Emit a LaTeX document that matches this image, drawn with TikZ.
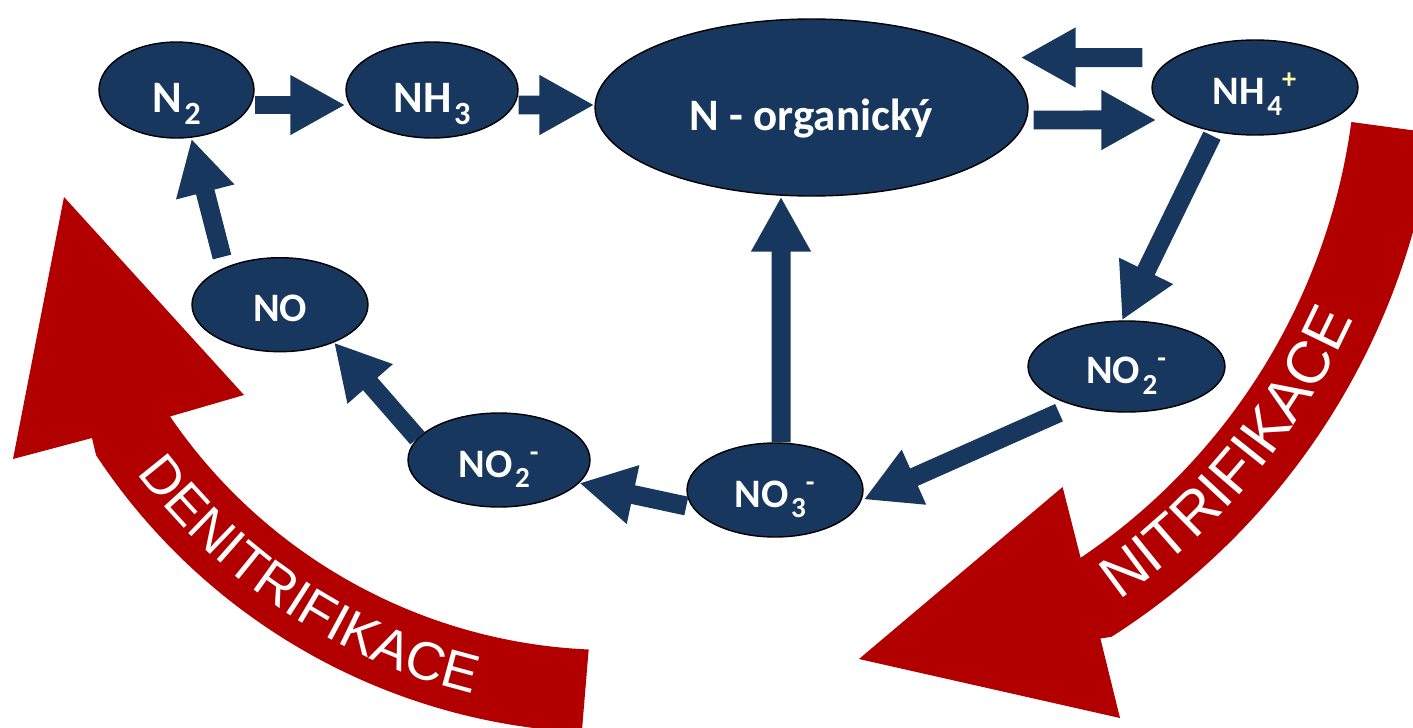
\documentclass[tikz,border=0pt]{standalone}
\usepackage{fontspec}
\setmainfont{Carlito}
\newfontfamily\arialfont{Liberation Sans}
\usetikzlibrary{arrows.meta}
\usetikzlibrary{shapes.geometric}
\usetikzlibrary{decorations.text}
\definecolor{navy}{RGB}{23,55,94}
\definecolor{cyclered}{RGB}{178,0,0}
\definecolor{plusyellow}{RGB}{255,255,170}
\newcommand{\bigfont}{\bfseries\fontsize{25.6}{30}\selectfont}
\newcommand{\smallfont}{\bfseries\fontsize{23}{27}\selectfont}
\newcommand{\denitfont}{\arialfont\fontsize{30.7}{36}\selectfont}
\newcommand{\nitfont}{\arialfont\fontsize{33.9}{40}\selectfont}
\newcommand{\chemsub}[1]{\kern0.06em\raisebox{-0.27em}{\scalebox{0.72}{#1}}}

\begin{document}
\begin{tikzpicture}[>={Triangle[length=1.1cm,width=1.12cm]},x=0.02cm,y=-0.02cm,
    bub/.style={ellipse,draw=black,line width=0.8pt,fill=navy,text=white,inner sep=0pt,text depth=0pt},
    bigbub/.style={bub,font=\bigfont,text height=0.9cm},
    smallbub/.style={bub,font=\smallfont,text height=0.68cm},
    flow/.style={->,draw=navy,line width=0.38cm}]
      \useasboundingbox (0,0) rectangle (1413,727);
      \clip (0,0) rectangle (1413,727);
      % big red arrows
      \fill[cyclered] ([shift={(92.5:535)}]612,115) arc[start angle=92.5,end angle=145.7,radius=535] -- (244,395) -- (64,197) -- (13,459) -- (92,438) -- ([shift={(146.6:618)}]612,115) arc[start angle=146.6,end angle=92.8,radius=618] -- cycle;
      \fill[cyclered] ([shift={(7.7:627)}]730,38) arc[start angle=7.7,end angle=56,radius=627] -- (1062.6,487) -- (859,659) -- (1120,718) -- (1100.4,638.5) -- ([shift={(57.5:710)}]730,38) arc[start angle=57.5,end angle=7.7,radius=710] -- cycle;
      \path[decorate,decoration={text along path,text={|\denitfont|DENITRIFIKACE},text color=white}] ([shift={(143:595)}]612,115) arc[start angle=143,end angle=100,radius=595];
      \path[decorate,decoration={text along path,text={|\nitfont|NITRIFIKACE},text color=white}] ([shift={(55.3:684)}]730,38) arc[start angle=55.3,end angle=18,radius=684];
      % nodes
      \node[bigbub,minimum width=3.1cm,minimum height=1.92cm] (n2) at (176.5,90) {N\chemsub{2}};
      \node[bigbub,minimum width=3.44cm,minimum height=1.92cm] (nh3) at (432,90) {NH\chemsub{3}};
      \node[bigbub,minimum width=8.66cm,minimum height=3.54cm,text height=0.94cm] (norg) at (811.5,107.5) {N - organický};
      \node[smallbub,minimum width=4.12cm,minimum height=1.9cm] (nh4) at (1255,87.5) {NH\chemsub{4}\textsuperscript{\color{plusyellow}+}};
      \node[smallbub,minimum width=3.94cm,minimum height=1.82cm] (no2r) at (1126.5,366.5) {NO\chemsub{2}\textsuperscript{-}};
      \node[smallbub,minimum width=3.52cm,minimum height=1.88cm] (no3) at (775,490) {NO\chemsub{3}\textsuperscript{-}};
      \node[smallbub,minimum width=3.64cm,minimum height=1.88cm] (no2l) at (499,460) {NO\chemsub{2}\textsuperscript{-}};
      \node[smallbub,minimum width=3.52cm,minimum height=1.88cm] (no) at (280,304.7) {NO};
      % blue arrows
      \draw[flow] ([yshift=-0.3cm]n2.east) -- ([yshift=-0.3cm]nh3.west);
      \draw[flow] ([yshift=-0.3cm]nh3.east) -- ([yshift=0.05cm]norg.west);
      \draw[flow] ([xshift=0.1cm,yshift=-0.25cm]norg.east) -- ([xshift=0.1cm,yshift=-0.65cm]nh4.west);
      \draw[flow] ([xshift=-0.18cm,yshift=0.6cm]nh4.west) -- ([xshift=-0.16cm,yshift=1cm]norg.east);
      \draw[flow] ([xshift=-0.86cm]nh4.south) -- ([xshift=-0.09cm]no2r.north);
      \draw[flow] ([xshift=-1.35cm]no2r.south) -- ([yshift=-0.19cm]no3.east);
      \draw[flow] ([xshift=0.12cm]no3.north) -- ([xshift=-0.61cm]norg.south);
      \draw[flow] ([yshift=-0.32cm]no3.west) -- (no2l.-16);
      \draw[flow] (no2l.165) -- (no.-35);
      \draw[flow] ([xshift=-1.16cm]no.north) -- ([xshift=0.3cm]n2.south);
\end{tikzpicture}
\end{document}
